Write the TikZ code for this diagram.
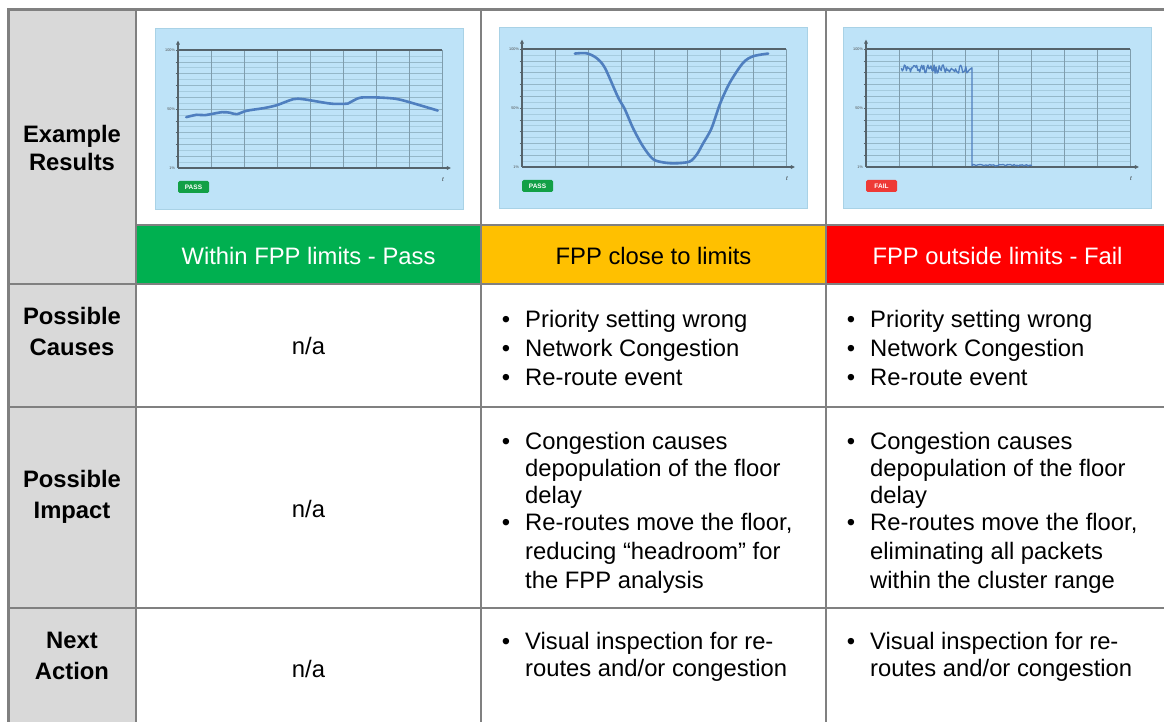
\documentclass[tikz,border=0pt]{standalone}
\usepackage{fontspec}
\setmainfont{Liberation Sans}
\usetikzlibrary{arrows.meta}
\definecolor{hdrgray}{HTML}{D9D9D9}
\definecolor{rulegray}{HTML}{808080}
\definecolor{passgreen}{HTML}{00B050}
\definecolor{closeorange}{HTML}{FFC000}
\definecolor{failred}{HTML}{FF0000}
\definecolor{chartbg}{HTML}{BEE3F8}
\definecolor{chartedge}{HTML}{A9D2E6}
\definecolor{gridlight}{HTML}{A6CCDF}
\definecolor{griddark}{HTML}{7F9DAD}
\definecolor{axisdark}{HTML}{55636B}
\definecolor{curveblue}{HTML}{4F7FBF}
\definecolor{badgegreen}{HTML}{12A046}
\definecolor{badgered}{HTML}{EE3A36}
\tikzset{
  body/.style={font=\fontsize{23.8}{27}\selectfont, inner sep=0pt, anchor=base west},
  bul/.style={font=\fontsize{23.8}{27}\selectfont, inner sep=0pt, anchor=base},
  rowhead/.style={font=\bfseries\fontsize{23.8}{27}\selectfont, inner sep=0pt, anchor=base},
  centred/.style={font=\fontsize{23.8}{27}\selectfont, inner sep=0pt, anchor=base},
  outerrule/.style={draw=rulegray, line width=3pt},
  innerrule/.style={draw=rulegray, line width=2pt},
  thinrule/.style={draw=rulegray, line width=1.5pt},
  ticklab/.style={font=\fontsize{3.8}{4}\selectfont, text=black!70, inner sep=0.6pt, anchor=east},
  curve/.style={curveblue, line width=2.6pt, line join=round, line cap=round},
  pics/chart/.style n args={2}{code={
    \fill[chartbg] (0,0) rectangle (308,181);
    \draw[chartedge, line width=0.6pt] (0,0) rectangle (308,181);
    \begin{scope}[shift={(23,140)}, x=33pt, y=118pt]
      \foreach \k in {1,...,19} \draw[gridlight, line width=0.45pt] (0,\k/20) -- (8,\k/20);
      \foreach \k in {2,4,...,18} \draw[griddark!45!gridlight, line width=0.45pt] (0,\k/20) -- (8,\k/20);
      \foreach \k in {1,...,8} \draw[griddark, line width=0.5pt] (\k,0) -- (\k,1);
      \foreach \k in {1,...,10} \draw[axisdark, line width=0.4pt] (-0.07,\k/10) -- (0,\k/10);
      \draw[axisdark, line width=1.3pt] (0,1) -- (8,1);
      \draw[axisdark, line width=1.2pt, -{Triangle[length=4pt,width=3.6pt]}] (0,0) -- (0,1.08);
      \draw[axisdark, line width=1.8pt, -{Triangle[length=4pt,width=3.6pt]}] (0,0) -- (8.27,0);
      \node[ticklab] (-l100) at (-0.07,1) {100\%};
      \node[ticklab] (-l50) at (-0.07,0.5) {50\%};
      \node[ticklab] (-l1) at (-0.07,0) {1\%};
    \end{scope}
    \node[font=\itshape\fontsize{6}{6}\selectfont, inner sep=0pt, text=black!80] (-t) at (288,152) {t};
    \node[fill=#2, rounded corners=1.5pt, text=white, font=\bfseries\fontsize{6.5}{7}\selectfont,
          minimum width=31pt, minimum height=12pt, inner sep=0pt] (-badge) at (38.5,159) {#1};
  }}
}
\begin{document}
\begin{tikzpicture}[x=1pt,y=-1pt]
\useasboundingbox (0,0) rectangle (1164,722);
\fill[white] (0,0) rectangle (1164,722);
% fills
\fill[hdrgray] (8,10) rectangle (136,722);
\fill[passgreen] (136,225) rectangle (481,284);
\fill[closeorange] (481,225) rectangle (826,284);
\fill[failred] (826,225) rectangle (1170,284);
% rules
\draw[innerrule] (136,225) -- (1170,225);
\draw[innerrule] (8,284) -- (1170,284);
\draw[thinrule] (8,407) -- (1170,407);
\draw[thinrule] (8,608) -- (1170,608);
\draw[innerrule] (136,10) -- (136,730);
\draw[innerrule] (481,10) -- (481,730);
\draw[innerrule] (826,10) -- (826,730);
\draw[outerrule] (8,730) -- (8,10) -- (1170,10);
% charts
\pic (c1) at (155,28) {chart={PASS}{badgegreen}};
\pic (c2) at (499,27) {chart={PASS}{badgegreen}};
\pic (c3) at (843,27) {chart={FAIL}{badgered}};
\begin{scope}[shift={(178,168)}, x=33pt, y=118pt]
  \draw[curve] plot[smooth, tension=0.5] coordinates {(0.25,0.431) (0.57,0.451) (0.82,0.448) (1.33,0.473) (1.58,0.468) (1.78,0.456) (2.08,0.485) (2.59,0.507) (2.99,0.532) (3.49,0.583) (3.79,0.583) (4.40,0.555) (4.70,0.544) (5.15,0.546) (5.30,0.569) (5.55,0.597) (6.11,0.597) (6.61,0.586) (7.01,0.558) (7.87,0.487)};
\end{scope}
\begin{scope}[shift={(522,167)}, x=33pt, y=118pt]
  \draw[curve] plot[smooth, tension=0.5] coordinates {(1.60,0.961) (1.95,0.964) (2.25,0.925) (2.51,0.841) (2.91,0.591) (3.11,0.493) (3.37,0.326) (3.67,0.173) (3.97,0.067) (4.28,0.039) (4.63,0.031) (5.07,0.045) (5.29,0.103) (5.49,0.201) (5.74,0.326) (6.00,0.535) (6.30,0.716) (6.70,0.883) (7.01,0.939) (7.46,0.961)};
\end{scope}
\begin{scope}[shift={(866,167)}, x=33pt, y=118pt]
  \pgfmathsetseed{7}
  \draw[curveblue, line width=1.3pt, line join=round]
    plot[domain=1.07:3.21, samples=70] (\x,{0.83+0.035*rand}) -- (3.21,0.015)
    -- plot[domain=3.21:5.03, samples=45] (\x,{0.015+0.007*rand});
\end{scope}
% band labels
\node[centred, text=white] (bandpass) at (308.5,264.5) {Within FPP limits - Pass};
\node[centred, text=black] (bandclose) at (653.5,264.5) {FPP close to limits};
\node[centred, text=white] (bandfail) at (997.5,264.5) {FPP outside limits - Fail};
% row headers
\node[rowhead] (h1a) at (72,143) {Example};
\node[rowhead] (h1b) at (72,171) {Results};
\node[rowhead] (h2a) at (72,324.5) {Possible};
\node[rowhead] (h2b) at (72,355.5) {Causes};
\node[rowhead] (h3a) at (72,487.5) {Possible};
\node[rowhead] (h3b) at (72,518.5) {Impact};
\node[rowhead] (h4a) at (72,648) {Next};
\node[rowhead] (h4b) at (72,679) {Action};
% n/a
\node[centred] (na2) at (308.5,354) {n/a};
\node[centred] (na3) at (308.5,517) {n/a};
\node[centred] (na4) at (308.5,677) {n/a};
% causes
\node[bul] (b3c1) at (506,327) {•};
\node[body] (t3c1) at (525,327) {Priority setting wrong};
\node[bul] (b3c2) at (506,356) {•};
\node[body] (t3c2) at (525,356) {Network Congestion};
\node[bul] (b3c3) at (506,385) {•};
\node[body] (t3c3) at (525,385) {Re-route event};
\node[bul] (b4c1) at (851,327) {•};
\node[body] (t4c1) at (870,327) {Priority setting wrong};
\node[bul] (b4c2) at (851,356) {•};
\node[body] (t4c2) at (870,356) {Network Congestion};
\node[bul] (b4c3) at (851,385) {•};
\node[body] (t4c3) at (870,385) {Re-route event};
% impact
\node[bul] (b3i1) at (506,449) {•};
\node[body] (t3i1a) at (525,449) {Congestion causes};
\node[body] (t3i1b) at (525,476) {depopulation of the floor};
\node[body] (t3i1c) at (525,503) {delay};
\node[bul] (b3i2) at (506,530) {•};
\node[body] (t3i2a) at (525,530) {Re-routes move the floor,};
\node[body] (t3i2b) at (525,559) {reducing “headroom” for};
\node[body] (t3i2c) at (525,588) {the FPP analysis};
\node[bul] (b4i1) at (851,449) {•};
\node[body] (t4i1a) at (870,449) {Congestion causes};
\node[body] (t4i1b) at (870,476) {depopulation of the floor};
\node[body] (t4i1c) at (870,503) {delay};
\node[bul] (b4i2) at (851,530) {•};
\node[body] (t4i2a) at (870,530) {Re-routes move the floor,};
\node[body] (t4i2b) at (870,559) {eliminating all packets};
\node[body] (t4i2c) at (870,588) {within the cluster range};
% next action
\node[bul] (b3n1) at (506,649) {•};
\node[body] (t3n1a) at (525,649) {Visual inspection for re-};
\node[body] (t3n1b) at (525,676) {routes and/or congestion};
\node[bul] (b4n1) at (851,649) {•};
\node[body] (t4n1a) at (870,649) {Visual inspection for re-};
\node[body] (t4n1b) at (870,676) {routes and/or congestion};
\end{tikzpicture}
\end{document}
